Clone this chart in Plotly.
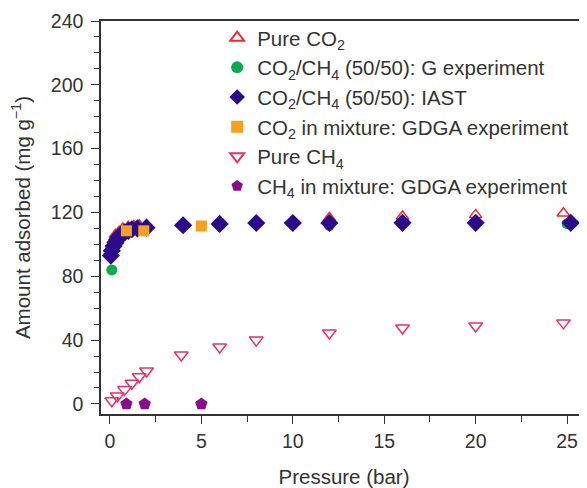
import plotly.graph_objects as go

# Pure CO2
co2_p = [0.05, 0.1, 0.2, 0.3, 0.5, 0.7, 1.0, 1.3, 1.6, 2.0, 4.0, 6.0, 8.0, 12.0, 16.0, 20.0, 24.8]
co2_q = [95, 99, 103, 106, 108, 110, 111, 111.5, 112, 112, 112.5, 113.5, 114, 116.5, 117.5, 118.5, 119.5]
# CO2/CH4 G experiment
g_p = [0.1, 4.0, 6.0, 8.0, 12.0, 16.0, 25.0]
g_q = [84, 111.5, 112.5, 113, 112, 113, 113]
# IAST
iast_p = [0.05, 0.1, 0.2, 0.3, 0.4, 0.5, 0.6, 0.8, 1.0, 1.2, 1.5, 2.0, 4.0, 6.0, 8.0, 10.0, 12.0, 16.0, 20.0, 25.2]
iast_q = [93, 96, 99, 101, 103, 105, 106, 107.5, 108.5, 109.5, 110, 110.5, 112, 112.8, 113.4, 113.4, 113.4, 113.5, 113.5, 113.5]
# CO2 in mixture GDGA
gd_co2_p = [0.9, 1.85, 5.0]
gd_co2_q = [108.5, 108.5, 111.5]
# Pure CH4
ch4_p = [0.1, 0.4, 0.8, 1.2, 1.6, 2.0, 3.9, 6.0, 8.0, 12.0, 16.0, 20.0, 24.8]
ch4_q = [2, 5, 9, 13, 17, 20.7, 30.7, 35.7, 40, 44.5, 47.6, 48.9, 50.8]
# CH4 in mixture GDGA
gd_ch4_p = [0.9, 1.9, 5.0]
gd_ch4_q = [0, 0, 0]

names = [
    "Pure CO<sub>2</sub>",
    "CO<sub>2</sub>/CH<sub>4</sub> (50/50): G experiment",
    "CO<sub>2</sub>/CH<sub>4</sub> (50/50): IAST",
    "CO<sub>2</sub> in mixture: GDGA experiment",
    "Pure CH<sub>4</sub>",
    "CH<sub>4</sub> in mixture: GDGA experiment",
]

fig = go.Figure()
fig.add_trace(go.Scatter(x=co2_p, y=co2_q, mode="markers", name=names[0], legendgroup="a",
                         marker=dict(symbol="triangle-up-open", size=11, color="#ee2a2f", line=dict(width=1.5))))
fig.add_trace(go.Scatter(x=g_p, y=g_q, mode="markers", name=names[1], legendgroup="b",
                         marker=dict(symbol="circle", size=11, color="#0bab4f")))
fig.add_trace(go.Scatter(x=iast_p, y=iast_q, mode="markers", name=names[2], legendgroup="c",
                         marker=dict(symbol="diamond", size=14, color="#2c0a8c")))
fig.add_trace(go.Scatter(x=gd_co2_p, y=gd_co2_q, mode="markers", name=names[3], legendgroup="d",
                         marker=dict(symbol="square", size=11, color="#f7a020")))
fig.add_trace(go.Scatter(x=ch4_p, y=ch4_q, mode="markers", name=names[4], legendgroup="e",
                         marker=dict(symbol="triangle-down-open", size=12, color="#e8306a", line=dict(width=1.5))))
fig.add_trace(go.Scatter(x=gd_ch4_p, y=gd_ch4_q, mode="markers", name=names[5], legendgroup="f",
                         marker=dict(symbol="pentagon", size=13, color="#8a0c8e")))

font = "Liberation Sans, Arial, sans-serif"
fig.update_layout(
    width=579, height=480,
    margin=dict(l=93, r=0, t=13, b=74),
    paper_bgcolor="white", plot_bgcolor="white",
    font=dict(family=font, size=19, color="#333333"),
    showlegend=True,
    legend=dict(x=0.239, y=1.008, xanchor="left", yanchor="top", bgcolor="rgba(0,0,0,0)",
                font=dict(size=20.5, color="#333333"), tracegroupgap=0, itemsizing="constant"),
    xaxis=dict(range=[-0.49, 26.09], tickmode="array", tickvals=[0, 5, 10, 15, 20, 25],
               ticks="outside", ticklen=8, tickwidth=1.2, tickcolor="#333",
               tickfont=dict(size=19.5), ticklabelstandoff=1, automargin=False,
               showline=True, linecolor="#333", linewidth=1.5, mirror=True,
               showgrid=False, zeroline=False,
               minor=dict(tickmode="array", tickvals=[2.5, 7.5, 12.5, 17.5, 22.5], ticks="outside",
                          ticklen=6, tickcolor="#333", tickwidth=1.2),
               title=dict(text="Pressure (bar)", standoff=25, font=dict(size=20.5))),
    yaxis=dict(range=[-6.3, 240], tickmode="array", tickvals=[0, 40, 80, 120, 160, 200, 240],
               ticks="outside", ticklen=8, tickwidth=1.2, tickcolor="#333",
               tickfont=dict(size=19.5), ticklabelstandoff=4,
               showline=True, linecolor="#333", linewidth=1.5,
               showgrid=False, zeroline=False,
               minor=dict(tickmode="array", tickvals=[v for v in range(10, 240, 10) if v % 40 != 0],
                          ticks="outside", ticklen=5, tickcolor="#333", tickwidth=1.2),
               title=dict(text="Amount adsorbed (mg g<sup>−1</sup>)", standoff=15, font=dict(size=20.5))),
)

fig.write_html("out.html")
